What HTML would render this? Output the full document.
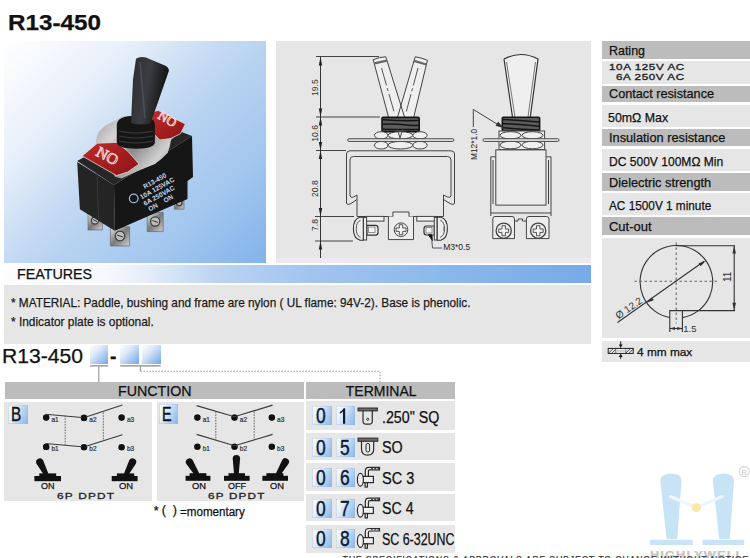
<!DOCTYPE html>
<html><head><meta charset="utf-8">
<style>
html,body{margin:0;padding:0;background:#fff;}
body{width:750px;height:558px;position:relative;overflow:hidden;font-family:"Liberation Sans",sans-serif;color:#111;}
.a{position:absolute;}
.t{position:absolute;white-space:nowrap;transform-origin:0 0;line-height:1;z-index:10;font-family:"Liberation Sans",sans-serif;-webkit-text-stroke:0.25px currentColor;}
.hdr{background:#bcbcbc;}
.row{background:#e6e6e6;}
.bx{background:linear-gradient(115deg,#fbfdff 0%,#e9f1fb 30%,#b4d1f1 65%,#86b6ea 100%);box-shadow:inset 0 0 0 0.6px rgba(150,180,220,.6);}
.pb{background:linear-gradient(135deg,#fdfeff 0%,#dfeafa 35%,#a2c6f0 70%,#6fa7e8 100%);}
</style></head><body>

<!-- photo -->
<div class="a" style="left:4px;top:41px;width:262px;height:222px;background:linear-gradient(135deg,#ffffff 0%,#f2f6fc 15%,#e6eff9 27%,#c6dbf3 45%,#b8d3f1 55%,#a2c6ee 77%,#82b3ea 100%);"></div>

<!-- diagram box -->
<div class="a" style="left:276px;top:41px;width:314.5px;height:217px;background:#e6e6e6;"></div>
<div class="a" style="left:276px;top:258px;width:314.5px;height:4.5px;background:#ede9ee;"></div>

<!-- spec table -->
<div class="a hdr" style="left:602px;top:41px;width:148px;height:17.6px;"></div>
<div class="a row" style="left:602px;top:60.6px;width:148px;height:23.7px;"></div>
<div class="a hdr" style="left:602px;top:86px;width:148px;height:16.3px;"></div>
<div class="a row" style="left:602px;top:104.6px;width:148px;height:22px;"></div>
<div class="a hdr" style="left:602px;top:129.1px;width:148px;height:17.4px;"></div>
<div class="a row" style="left:602px;top:148.9px;width:148px;height:22.1px;"></div>
<div class="a hdr" style="left:602px;top:172.8px;width:148px;height:17.8px;"></div>
<div class="a row" style="left:602px;top:193.4px;width:148px;height:21.3px;"></div>
<div class="a hdr" style="left:602px;top:217.4px;width:148px;height:17.8px;"></div>
<div class="a row" style="left:602px;top:238px;width:148px;height:100.4px;"></div>
<div class="a row" style="left:602px;top:340.8px;width:148px;height:20.8px;"></div>

<!-- features -->
<div class="a" style="left:4px;top:265.2px;width:587px;height:17.6px;background:linear-gradient(90deg,#fdfdff 0%,#f8f9fd 17%,#e2ecf9 25%,#bcd4f2 36%,#a4c6ef 50%,#8bb8eb 75%,#78aae8 100%);"></div>
<div class="a row" style="left:4px;top:284.5px;width:587px;height:59.3px;"></div>

<!-- part number boxes -->
<div class="a pb" style="left:90.2px;top:345px;width:18px;height:18.6px;"></div>
<div class="a pb" style="left:120.2px;top:345px;width:18.8px;height:18.6px;"></div>
<div class="a pb" style="left:142.2px;top:345px;width:18.5px;height:18.6px;"></div>

<!-- headers -->
<div class="a hdr" style="left:5px;top:382.1px;width:298.5px;height:17.4px;"></div>
<div class="a hdr" style="left:306px;top:382.1px;width:148.7px;height:17.4px;"></div>

<!-- function panels -->
<div class="a row" style="left:4.3px;top:401.8px;width:148.1px;height:99px;"></div>
<div class="a row" style="left:156.5px;top:401.8px;width:147.2px;height:99px;"></div>
<div class="a bx" style="left:8.3px;top:404.5px;width:19.4px;height:19.2px;"></div>
<div class="a bx" style="left:159.3px;top:404.3px;width:18.8px;height:19.4px;"></div>

<!-- terminal rows -->
<div class="a row" style="left:305.5px;top:401.3px;width:149px;height:29.2px;"></div>
<div class="a row" style="left:305.5px;top:432.8px;width:149px;height:27.7px;"></div>
<div class="a row" style="left:305.5px;top:463.2px;width:149px;height:27.6px;"></div>
<div class="a row" style="left:305.5px;top:494px;width:149px;height:27px;"></div>
<div class="a row" style="left:305.5px;top:524.9px;width:149px;height:28px;"></div>
<div class="a bx" style="left:312.2px;top:406.1px;width:19.4px;height:19px;"></div>
<div class="a bx" style="left:335.5px;top:406.1px;width:19px;height:19px;"></div>
<div class="a bx" style="left:312.2px;top:437.6px;width:19.4px;height:19px;"></div>
<div class="a bx" style="left:335.5px;top:437.6px;width:19px;height:19px;"></div>
<div class="a bx" style="left:312.2px;top:467.8px;width:19.4px;height:19px;"></div>
<div class="a bx" style="left:335.5px;top:467.8px;width:19px;height:19px;"></div>
<div class="a bx" style="left:312.2px;top:498.7px;width:19.4px;height:19px;"></div>
<div class="a bx" style="left:335.5px;top:498.7px;width:19px;height:19px;"></div>
<div class="a bx" style="left:312.2px;top:529px;width:19.4px;height:19px;"></div>
<div class="a bx" style="left:335.5px;top:529px;width:19px;height:19px;"></div>

<svg class="a" style="left:0;top:0;z-index:5" width="750" height="558" viewBox="0 0 750 558">
<defs>
  <linearGradient id="lev" x1="0" y1="0" x2="1" y2="0.3"><stop offset="0" stop-color="#2a2a2e"/><stop offset="0.5" stop-color="#3c3d42"/><stop offset="1" stop-color="#111"/></linearGradient>
  <linearGradient id="silv" x1="0" y1="0" x2="1" y2="0.6"><stop offset="0" stop-color="#9a9a9a"/><stop offset="0.3" stop-color="#d6d6d6"/><stop offset="0.55" stop-color="#8c8c8c"/><stop offset="0.8" stop-color="#cfcfcf"/><stop offset="1" stop-color="#a8a8a8"/></linearGradient>
  <linearGradient id="red" x1="0" y1="0" x2="1" y2="1"><stop offset="0" stop-color="#c22a2a"/><stop offset="1" stop-color="#8a1414"/></linearGradient>
  <linearGradient id="term" x1="0" y1="0" x2="1" y2="1"><stop offset="0" stop-color="#e8e8e8"/><stop offset="0.5" stop-color="#7a7a7a"/><stop offset="1" stop-color="#cfcfcf"/></linearGradient>
 </defs>
<g id="photoart">
  <!-- terminals -->
  <g stroke="#5a5a5a" stroke-width="0.6">
   <path d="M88,212.4 H102.4 V230 H88 Z" fill="url(#term)"/>
   <path d="M110.4,226.8 H129.6 V246 H110.4 Z" fill="url(#term)"/>
   <path d="M147.2,212.4 H163.2 V231.6 H147.2 Z" fill="url(#term)"/>
   <path d="M174.4,196.4 H184 V209.2 H174.4 Z" fill="url(#term)"/>
  </g>
  <g fill="#bdbdbd" stroke="#3a3a3a" stroke-width="1.2">
   <circle cx="95" cy="220.5" r="3.6"/><circle cx="120" cy="236" r="4.8"/><circle cx="155.2" cy="221.5" r="4.6"/><circle cx="179.2" cy="202.8" r="2.8"/>
  </g>
  <path d="M117,235 L123,237 M152.5,220.5 L158,222.5 M93,219.5 L97,221.5" stroke="#333" stroke-width="1"/>
  <!-- body -->
  <polygon points="77.2,161 150,120 192,136 114,185" fill="#262626"/>
  <polygon points="77.2,162 114,185 114.8,230.7 79.9,209.2" fill="#242424"/>
  <polygon points="114,185 192,136 193,177 187.5,181 187.5,199 114.8,230.7" fill="#161616"/>
  <path d="M97,173 L98.5,220" stroke="#383838" stroke-width="1"/>
  <!-- silver plate -->
  <path d="M95.8,144 Q96,136 99,132 Q104,125 111.8,122.4 L123,116 L151.8,114.4 L185.4,125.6 L171,140 Q170,147 167.8,152.8 Q162,159 155,164 L139,170.4 L121.4,178.4 L115,176.8 Z" fill="url(#silv)"/>
  <!-- red plates -->
  <path d="M82.2,156 L97.4,143.2 L116.6,142.4 L127.8,151.2 L139,164 L127.8,172 L116.6,175.6 Z" fill="url(#red)" stroke="#dcdcdc" stroke-width="0.8"/>
  <path d="M151.8,112 L158.2,110.4 L185.4,124 L180.6,133.6 L171,138.4 L159.8,140 L151.8,132 Z" fill="url(#red)" stroke="#dcdcdc" stroke-width="0.8"/>
  <g font-family="Liberation Serif" fill="none" stroke="#f1d6d6" stroke-width="0.9">
   <text font-size="15" transform="translate(95,155) rotate(28) scale(1.05,1)">NO</text>
   <text font-size="13" transform="translate(157,118) rotate(30)">NO</text>
  </g>
  <!-- bushing -->
  <path d="M116.8,125 Q117,115.8 136,115.8 Q155,115.8 154.9,125 V142 Q155,148.7 136,148.7 Q117,148.7 116.8,142 Z" fill="#161616"/>
  <path d="M119,131 Q136,135 153,131 M119,136 Q136,140 153,136 M119,141 Q136,145 153,141" stroke="#3c3c3c" stroke-width="1.1" fill="none"/>
  <!-- lever -->
  <path d="M136,58.7 Q140,56 146,57.5 L166,66 Q170,69 168.5,72 L150.7,123 Q141,126 131,123 L133,79.4 Z" fill="url(#lev)"/>
  <path d="M140,62 L145,118" stroke="#55575d" stroke-width="1.6" opacity="0.7"/>
  <!-- body text -->
  <g transform="translate(141.5,199.5) rotate(-29)" font-family="Liberation Sans" font-size="6.6" fill="#c8d6ee" font-weight="bold">
   <text x="8" y="-7.5">R13-450</text><text x="0" y="0">10A 125VAC</text><text x="0" y="7.3">6A 250VAC</text><text x="1.5" y="14.5">ON &#160;&#160;&#160;ON</text>
  </g>
  <circle cx="133.7" cy="198.4" r="4.3" fill="none" stroke="#9ab4e0" stroke-width="1.3"/>
</g>
<g id="diagram" fill="none" stroke="#3a3a3a" stroke-width="1">
  <!-- dimension lines -->
  <path d="M316,56.5H379 M316,117H380 M316,150.5H346 M315,216.5H354 M315,241H353" stroke="#444"/>
  <path d="M320.5,57V258" stroke="#333"/>
  <path d="M318.8,65.5 L320.5,57 L322.2,65.5Z M318.8,108.5 L320.5,117 L322.2,108.5Z M318.8,125.5 L320.5,117 L322.2,125.5Z M318.8,142.0 L320.5,150.5 L322.2,142.0Z M318.8,159.0 L320.5,150.5 L322.2,159.0Z M318.8,208.0 L320.5,216.5 L322.2,208.0Z M318.8,249.5 L320.5,241 L322.2,249.5Z" fill="#222" stroke="none"/>
  <g font-family="Liberation Sans" font-size="9.5" fill="#333" stroke="none" text-anchor="middle">
   <text transform="translate(317.6,87.6) rotate(-90) scale(0.9,1)">19.5</text>
   <text transform="translate(317.6,133.4) rotate(-90) scale(0.9,1)">10.6</text>
   <text transform="translate(317.6,188.6) rotate(-90) scale(0.9,1)">20.8</text>
   <text transform="translate(317.6,225) rotate(-90) scale(0.9,1)">7.8</text>
  </g>
  <!-- front levers -->
  <path d="M373.2,59.7 L385.8,56.8 L404.5,117 L388.5,117 Z M415.2,56.8 L427.4,60.3 L413.8,117 L397.6,117 Z" fill="#efefef" stroke="none"/>
  <path d="M373.2,59.7 L388.5,117 M385.8,56.8 L404.5,117 M373.2,59.7 Q379,57 385.8,56.8" stroke="#444"/>
  <path d="M374.4,63.4 L386.9,60.6" stroke="#666" stroke-width="2.2"/>
  <path d="M381.5,68 L394.4,113" stroke="#555" stroke-dasharray="18 3 3 3"/>
  <path d="M415.2,56.8 L397.6,117 M427.4,60.3 L413.8,117 M415.2,56.8 Q421,57.5 427.4,60.3" stroke="#444"/>
  <path d="M414.1,60.9 L426.3,64.5" stroke="#666" stroke-width="2.2"/>
  <path d="M418,68 L405.9,113" stroke="#555" stroke-dasharray="18 3 3 3"/>
  <!-- bushing -->
  <rect x="382" y="117.4" width="37.2" height="14.2" rx="1" fill="#5c5c5c" stroke="#151515" stroke-width="1.6"/>
  <path d="M382.5,119.8 Q400,121 419,120.5 M382.5,124.2 Q395,123.5 404,124.8 Q412,125.8 419,125.2 M382.5,129.3 Q400,129.8 419,129.5" stroke="#151515" stroke-width="1.5" fill="none"/>
  <!-- nuts & plate -->
  <g fill="#efefef" stroke="#444">
   <ellipse cx="381.2" cy="135.3" rx="6.8" ry="3.6"/><ellipse cx="400.4" cy="135.3" rx="12.4" ry="3.6"/><ellipse cx="420" cy="135.3" rx="7.2" ry="3.6"/>
   <ellipse cx="381.2" cy="145.2" rx="6.8" ry="3.8"/><ellipse cx="400.4" cy="145.2" rx="12.4" ry="3.8"/><ellipse cx="420" cy="145.2" rx="7.2" ry="3.8"/>
   <rect x="347.7" y="138.8" width="106.2" height="2.6" rx="1.3"/>
  </g>
  <path d="M397,128 L400,138 L403,128" stroke="#444"/>
  <!-- frame -->
  <path d="M346.5,203 V154 Q346.5,150.8 350,150.8 H451 Q454.5,150.8 454.5,154 V203 Q454,205.5 450,203.5 L443.5,199.5" stroke="#444"/>
  <path d="M350,196 V160 Q350,156.5 353.5,156.5 H447.5 Q451,156.5 451,160 V196 Q450.5,198 447.5,197 L443.5,195" stroke="#444"/>
  <path d="M346.5,203 Q347,205.5 351,203.5 L357,199.5 M350,196 Q350.5,198 353.5,197 L357,195" stroke="#444"/>
  <path d="M357,195 V216.5 M443.5,195 V216.5 M357,216.5 H443.5" stroke="#444"/>
  <!-- front terminals -->
  <rect x="365.5" y="216.4" width="18.5" height="4.7" fill="#f0f0f0" stroke="#444"/>
  <rect x="416.8" y="216.4" width="18.4" height="4.7" fill="#f0f0f0" stroke="#444"/>
  <path d="M366.9,225.3 H375.5 Q378,225.3 378,228 V232.4 Q378,235.1 375.5,235.1 H366.9 Z" fill="#ececec" stroke="#333" stroke-width="1.2"/>
  <rect x="368.5" y="227" width="6.5" height="5.6" fill="#f4f4f4" stroke="#666" stroke-width="0.7"/>
  <rect x="363.3" y="217.5" width="3.3" height="22.5" fill="#ececec" stroke="#444"/>
  <path d="M363.3,217.3 H360 Q353.4,219 353.4,228.8 Q353.4,238.6 360,240.3 H363.3 Z" fill="#ececec" stroke="#333" stroke-width="1.1"/>
  <path d="M360.5,220.2 Q356.2,222 356.2,228.8 Q356.2,235.6 360.5,237.4" stroke="#555"/>
  <path d="M434.3,226 H426.5 Q424,226 424,228.7 V232.3 Q424,235 426.5,235 H434.3 Z" fill="#ececec" stroke="#333" stroke-width="1.2"/>
  <rect x="426" y="227.6" width="6" height="5.4" fill="#f4f4f4" stroke="#666" stroke-width="0.7"/>
  <rect x="434.3" y="217.5" width="2.9" height="22.5" fill="#ececec" stroke="#444"/>
  <path d="M437.2,217.3 H440.8 Q447.4,219 447.4,228.8 Q447.4,238.6 440.8,240.3 H437.2 Z" fill="#ececec" stroke="#333" stroke-width="1.1"/>
  <path d="M440.2,220.2 Q444.6,222 444.6,228.8 Q444.6,235.6 440.2,237.4" stroke="#555"/>
  <path d="M443.8,226.5 V231" stroke="#666" stroke-width="0.8"/>
  <path d="M392.9,216.5 V212 H409 V216.5 M388.4,216.5 V239.6 H413.5 V216.5" fill="#ececec" stroke="#444"/>
  <circle cx="401" cy="229.7" r="6.8" stroke="#444"/>
  <path d="M399.3,224.7 H402.7 V228.0 H406.0 V231.4 H402.7 V234.7 H399.3 V231.4 H396.0 V228.0 H399.3 Z" fill="#f2f2f2" stroke="#444" stroke-width="0.9" stroke-linejoin="round"/>
  <!-- M3 leader -->
  <path d="M428.4,234.6 L432,234.8 L432.4,240.8 Z" fill="#111" stroke="#111" stroke-width="0.8"/>
  <path d="M431.8,240.5 L432.5,248 H442" stroke="#555"/>
  <text transform="translate(443.2,250.3) scale(0.9,1)" font-family="Liberation Sans" font-size="9.5" fill="#222" stroke="none">M3*0.5</text>

  <!-- side view -->
  <path d="M504,59 Q521,50 538,59 L530.3,117 L512.5,117 Z" fill="#efefef" stroke="none"/>
  <path d="M504,59 Q521,50 538,59 L530.3,117 M512.5,117 L504,59" stroke="#333" stroke-width="1.2"/>
  <path d="M535.5,62 L528,117 M515,117 L506.5,62" stroke="#777"/>
  <rect x="502.3" y="117.2" width="37.3" height="13.8" rx="1" fill="#5c5c5c" stroke="#151515" stroke-width="1.6"/>
  <path d="M502.8,119.5 Q520,120 539,122 M502.8,123.5 Q520,124.5 539,126.3 M502.8,127.8 Q520,129 539,130" stroke="#151515" stroke-width="1.5" fill="none"/>
  <g fill="#efefef" stroke="#444">
   <rect x="499" y="131" width="45.6" height="18.6"/>
   <ellipse cx="510.5" cy="135.3" rx="10.5" ry="3.6"/><ellipse cx="532.5" cy="135.3" rx="10.5" ry="3.6"/>
   <ellipse cx="510.5" cy="145" rx="10.5" ry="3.8"/><ellipse cx="532.5" cy="145" rx="10.5" ry="3.8"/>
   <rect x="483" y="138.8" width="76" height="2.6" rx="1.3"/>
  </g>
  <rect x="495.8" y="149.9" width="50.2" height="55.2" fill="#ececec" stroke="#444"/>
  <path d="M490.8,216 V156.8 H495.8 M546,156.8 H551 V216 M493,160 V204 M548.5,160 V204" stroke="#444"/>
  <path d="M490.8,213 H551" stroke="#444"/>
  <path d="M492.8,238.6 V219 Q492.8,216.5 495,216.5 H512 Q514.5,216.5 514.5,219 V238.6 Z" fill="#ececec" stroke="#444"/>
  <path d="M526.4,238.6 V219 Q526.4,216.5 529,216.5 H546.5 Q549,216.5 549,219 V238.6 Z" fill="#ececec" stroke="#444"/>
  <path d="M514.5,221 H518 V219 H522.5 V221 H526.4" stroke="#444"/>
  <circle cx="503.7" cy="230.7" r="7.6" stroke="#444" stroke-width="1.3"/>
  <circle cx="538.2" cy="230.7" r="7.6" stroke="#444" stroke-width="1.3"/>
  <path d="M502.0,225.7 H505.4 V229.0 H508.7 V232.39999999999998 H505.4 V235.7 H502.0 V232.39999999999998 H498.7 V229.0 H502.0 Z" fill="#f2f2f2" stroke="#444" stroke-width="0.9" stroke-linejoin="round"/><path d="M536.5,225.7 H539.9000000000001 V229.0 H543.2 V232.39999999999998 H539.9000000000001 V235.7 H536.5 V232.39999999999998 H533.2 V229.0 H536.5 Z" fill="#f2f2f2" stroke="#444" stroke-width="0.9" stroke-linejoin="round"/>
  <!-- M12 leader -->
  <path d="M473.3,127 V109.4 L501,126.5" stroke="#444"/>
  <path d="M503.5,128 L495.5,125.8 L498.2,121.6Z" fill="#333" stroke="none"/>
  <text transform="translate(477,160) rotate(-90) scale(0.88,1)" font-family="Liberation Sans" font-size="9.5" fill="#222" stroke="none">M12*1.0</text>
 </g>
 <g id="cutout" fill="none" stroke="#333" stroke-width="1.1">
  <path d="M682.4,317.6 A36.3,36.3 0 1 0 669.8,317.5"/>
  <path d="M669.8,331.9 V310.6 H682.4 V331.9"/>
  <path d="M634.5,281.3 H718.2 M676.2,242.5 V323.4" stroke="#666" stroke-dasharray="2.5 2.5"/>
  <path d="M617.5,322.5 L704.1,261.3"/>
  <path d="M705.8,260.9 L698.6,263.3 L700.6,266.2 Z M646.6,302.7 L653.8,300.3 L651.8,297.4 Z" fill="#333" stroke="none"/>
  <path d="M676.2,245.7 H735.1 M682.4,310.6 H735.1 M734.2,245.7 V310.6"/>
  <path d="M732.4,253.5 L734.2,245.7 L736,253.5 Z M732.4,302.8 L734.2,310.6 L736,302.8 Z" fill="#333" stroke="none"/>
  <path d="M669.8,328.5 H682.4"/>
  <path d="M669.8,328.5 L675,327 V330 Z M682.4,328.5 L677.2,327 V330 Z" fill="#333" stroke="none"/>
  <g font-family="Liberation Sans" fill="#333" stroke="none">
   <text transform="translate(618.5,319.5) rotate(-35.25)" font-size="10">Ø 12.2</text>
   <text transform="translate(730.5,282) rotate(-90)" font-size="10">11</text>
   <text x="683.3" y="332" font-size="9.5">1.5</text>
  </g>
 </g>
 <g id="thk">
  <rect x="608.2" y="348.4" width="25" height="5" fill="#f6f6f6" stroke="#1a1a1a" stroke-width="1"/>
  <path d="M609.2,352.6 L613,348.8 M612.2,352.8 L615.6,349.4 M626.2,352.8 L630,349 M629.4,352.8 L632.8,349.4" stroke="#222" stroke-width="0.9"/>
  <path d="M615.8,348.6 V353.1 M625.8,348.6 V353.1" stroke="#333" stroke-width="0.7"/>
  <rect x="616.4" y="349.9" width="8.8" height="2" fill="#d0d0d0"/>
  <path d="M620.7,341.3 V346" stroke="#1a1a1a" stroke-width="1"/>
  <path d="M618.8,344.5 L620.7,348 L622.6,344.5 Z M618.8,357 L620.7,353.6 L622.6,357 Z" fill="#1a1a1a"/>
  <path d="M620.7,355 V358.8" stroke="#1a1a1a" stroke-width="1"/>
 </g>
 <g id="func">
  <g fill="#111" stroke="#f2f2f2" stroke-width="1.2">
   <circle cx="46.2" cy="417.6" r="3.9"/><circle cx="84" cy="417.9" r="3.9"/><circle cx="121.6" cy="417.6" r="3.9"/>
   <circle cx="46.2" cy="446.9" r="3.9"/><circle cx="84" cy="447.2" r="3.9"/><circle cx="121.6" cy="447.2" r="3.9"/>
   <circle cx="197.4" cy="417.6" r="3.9"/><circle cx="234.5" cy="417.6" r="3.9"/><circle cx="271.8" cy="417.6" r="3.9"/>
   <circle cx="197.4" cy="446.7" r="3.9"/><circle cx="234.5" cy="446.7" r="3.9"/><circle cx="271.8" cy="446.7" r="3.9"/>
  </g>
  <g fill="none" stroke="#3a3a3a" stroke-width="1.1">
   <path d="M45.5,414.2 L82,417.5 M86,417 L122.4,405.1 M45.5,443.5 L82,446.8 M86,446.3 L122.4,434.8"/>
   <path d="M196.6,405.6 L234.5,416.8 L272.6,405.1 M196.6,434.4 L234.5,445.8 L272.6,434.4"/>
  </g>
  <g fill="none" stroke="#555" stroke-width="0.9" stroke-dasharray="1.6 1.2">
   <path d="M65.2,415.5 V444.7 M103.3,412.5 V439.6 M215.8,411.5 V440 M254.2,411.5 V439.2"/>
  </g>
  <g font-family="Liberation Sans" font-size="6.5" fill="#333" stroke="#333" stroke-width="0.2">
   <text x="51.5" y="421.5">a1</text><text x="89.3" y="421.7">a2</text><text x="126.9" y="421.5">a3</text>
   <text x="51.5" y="450.8">b1</text><text x="89.3" y="451">b2</text><text x="126.9" y="451">b3</text>
   <text x="202.7" y="421.5">a1</text><text x="239.8" y="421.5">a2</text><text x="277.1" y="421.5">a3</text>
   <text x="202.7" y="450.6">b1</text><text x="239.8" y="450.6">b2</text><text x="277.1" y="450.6">b3</text>
  </g>
  <g fill="#111">
   <rect x="34.4" y="476" width="26.6" height="5.2"/><rect x="39.3" y="473.4" width="16.9" height="3"/>
   <rect x="111.7" y="476" width="25.9" height="5.2"/><rect x="116.9" y="473.4" width="17.3" height="3"/>
   <rect x="185.6" y="475.8" width="24.8" height="5"/><rect x="189.6" y="473.2" width="16.8" height="3"/>
   <rect x="224" y="475.8" width="25.6" height="5"/><rect x="228.5" y="473.2" width="16.5" height="3"/>
   <rect x="262.4" y="475.8" width="25.6" height="5"/><rect x="266.4" y="473.2" width="17" height="3"/>
  </g>
  <g fill="#111"><path d="M36.52,463.71 L44.26,475.56 L48.34,473.44 L43.08,460.29 A3.7,3.7 0 0 0 36.52,463.71 Z"/><path d="M129.27,460.29 L124.01,473.44 L128.09,475.56 L135.83,463.71 A3.7,3.7 0 0 0 129.27,460.29 Z"/><path d="M186.35,463.94 L195.24,475.71 L199.16,473.29 L192.65,460.06 A3.7,3.7 0 0 0 186.35,463.94 Z"/><path d="M232.70,458.60 L234.10,474.50 L238.70,474.50 L240.10,458.60 A3.7,3.7 0 0 0 232.70,458.60 Z"/><path d="M282.10,460.13 L276.01,473.34 L279.99,475.66 L288.50,463.87 A3.7,3.7 0 0 0 282.10,460.13 Z"/></g>
 </g>
 <g id="ticons" fill="none">
  <path d="M339.9,412.2 Q342.6,410.6 343.6,408.3 L345.2,408.3 V423.8 H343 V411.6 Q341.6,413 339.9,413.8 Z" fill="#0c1a33"/>
  <rect x="358" y="408" width="19.4" height="2.9" fill="#6a6a6a" stroke="#2a2a2a" stroke-width="1"/>
  <path d="M363,410.9 V421 Q363,424.2 366,424.2 H369.3 Q372.3,424.2 372.3,421 V410.9" stroke="#2a2a2a" stroke-width="1.2"/>
  <circle cx="367.7" cy="419.3" r="1.1" stroke="#2a2a2a" stroke-width="0.9"/>
  <rect x="358" y="438.1" width="19.8" height="3.2" fill="#6a6a6a" stroke="#2a2a2a" stroke-width="1"/>
  <path d="M361.5,441.3 V449 Q361.5,455.2 367.6,455.2 Q373.7,455.2 373.7,449 V441.3" stroke="#2a2a2a" stroke-width="1.2"/>
  <rect x="366" y="443.4" width="3.6" height="8.7" rx="1.8" stroke="#2a2a2a" stroke-width="1"/>
  <g transform="translate(0,0)" stroke="#2a2a2a" stroke-width="1.2">
   <path d="M365.3,476.6 V471 Q365.3,467.3 369,467.3 H379.5 V469.8 H369.6 Q368.4,469.8 368.4,471 V476.6" fill="#f0f0f0"/>
   <path d="M371,468.55 H379" stroke="#444" stroke-dasharray="2 1.2" stroke-width="1.2"/>
   <rect x="362.6" y="476.4" width="10.8" height="6.2" fill="#f0f0f0"/>
   <ellipse cx="360.4" cy="479.8" rx="3" ry="6.4" fill="#f0f0f0"/>
   <rect x="365.1" y="482.6" width="2.3" height="4.4" fill="#f0f0f0"/>
  </g>
  <g transform="translate(0,30.9)" stroke="#2a2a2a" stroke-width="1.2">
   <path d="M365.3,476.6 V471 Q365.3,467.3 369,467.3 H379.5 V469.8 H369.6 Q368.4,469.8 368.4,471 V476.6" fill="#f0f0f0"/>
   <path d="M371,468.55 H379" stroke="#444" stroke-dasharray="2 1.2" stroke-width="1.2"/>
   <rect x="362.6" y="476.4" width="10.8" height="6.2" fill="#f0f0f0"/>
   <ellipse cx="360.4" cy="479.8" rx="3" ry="6.4" fill="#f0f0f0"/>
   <rect x="365.1" y="482.6" width="2.3" height="4.4" fill="#f0f0f0"/>
  </g>
  <g transform="translate(0,61.2)" stroke="#2a2a2a" stroke-width="1.2">
   <path d="M365.3,476.6 V471 Q365.3,467.3 369,467.3 H379.5 V469.8 H369.6 Q368.4,469.8 368.4,471 V476.6" fill="#f0f0f0"/>
   <path d="M371,468.55 H379" stroke="#444" stroke-dasharray="2 1.2" stroke-width="1.2"/>
   <rect x="362.6" y="476.4" width="10.8" height="6.2" fill="#f0f0f0"/>
   <ellipse cx="360.4" cy="479.8" rx="3" ry="6.4" fill="#f0f0f0"/>
   <rect x="365.1" y="482.6" width="2.3" height="4.4" fill="#f0f0f0"/>
  </g>
 </g>
 <g id="logo">
  <path d="M660.3,481 Q660.3,473.5 671,473.5 Q681.5,473.5 681.5,481 L677.2,539 H666.6 Z" fill="#c8e2f6"/>
  <path d="M712.9,481 Q712.9,473.5 723.5,473.5 Q734,473.5 734,481 L729.7,539 H719.2 Z" fill="#c8e2f6"/>
  <rect x="650.1" y="539.8" width="42.5" height="5.2" fill="#c8e2f6"/>
  <rect x="702.7" y="539.8" width="41.5" height="5.2" fill="#c8e2f6"/>
  <path d="M670.4,496.5 L696.3,507.6 L722.1,496.5" stroke="#eef6fc" stroke-width="3" fill="none" stroke-linecap="round"/>
  <circle cx="696.3" cy="507.6" r="4.6" fill="#fbe8a6"/>
  <circle cx="744.2" cy="471.6" r="5" fill="none" stroke="#c4c4c4" stroke-width="0.9"/>
  <text x="741.3" y="475" font-family="Liberation Sans" font-size="8" fill="#c4c4c4">R</text>
 </g>
 <g id="conn" fill="none">
  <path d="M90.2,365.9 H108.2 M120.2,365.9 H160.7" stroke="#6a6a6a" stroke-width="1"/>
  <path d="M98.8,366.5 V382" stroke="#8a8a8a" stroke-width="1"/>
  <path d="M140.4,366.5 V371.3" stroke="#8a8a8a" stroke-width="1"/>
  <path d="M140.4,371.3 H380 V382" stroke="#9a9a9a" stroke-width="1" stroke-dasharray="1.5 1.5"/>
 </g>

</svg>

<div class="t" style="left:7.70px;top:12.20px;font-size:22px;font-weight:bold;color:#111;transform:scaleX(1.1012);">R13-450</div>
<div class="t" style="left:609.28px;top:43.60px;font-size:13.6px;color:#111;transform:scaleX(0.9158);">Rating</div>
<div class="t" style="left:608.87px;top:87.30px;font-size:13.6px;color:#111;transform:scaleX(0.9333);">Contact resistance</div>
<div class="t" style="left:608.86px;top:131.40px;font-size:13.6px;color:#111;transform:scaleX(0.9385);">Insulation resistance</div>
<div class="t" style="left:608.86px;top:175.50px;font-size:13.6px;color:#111;transform:scaleX(0.9393);">Dielectric strength</div>
<div class="t" style="left:608.55px;top:219.90px;font-size:13.6px;color:#111;transform:scaleX(0.9535);">Cut-out</div>
<div class="t" style="left:609.08px;top:62.00px;font-size:9.5px;letter-spacing:0.5px;-webkit-text-stroke:0.35px #222;color:#222;transform:scaleX(1.2217);">10A 125V AC</div>
<div class="t" style="left:616.40px;top:71.70px;font-size:9.5px;letter-spacing:0.5px;-webkit-text-stroke:0.35px #222;color:#222;transform:scaleX(1.2218);">6A 250V AC</div>
<div class="t" style="left:608.19px;top:110.70px;font-size:13.6px;color:#111;transform:scaleX(0.9108);">50mΩ Max</div>
<div class="t" style="left:608.91px;top:154.70px;font-size:13.6px;color:#111;transform:scaleX(0.8866);">DC 500V 100MΩ Min</div>
<div class="t" style="left:609.10px;top:198.80px;font-size:13.6px;color:#111;transform:scaleX(0.8675);">AC 1500V 1 minute</div>
<div class="t" style="left:637.00px;top:347.30px;font-size:11.5px;color:#111;transform:scaleX(1.0302);">4 mm max</div>
<div class="t" style="left:16.58px;top:267.40px;font-size:14px;color:#111;transform:scaleX(1.0194);">FEATURES</div>
<div class="t" style="left:11.31px;top:296.20px;font-size:13.2px;color:#1a1a1a;transform:scaleX(0.8941);">* MATERIAL: Paddle, bushing and frame are nylon ( UL flame: 94V-2). Base is phenolic.</div>
<div class="t" style="left:11.30px;top:315.40px;font-size:13.2px;color:#1a1a1a;transform:scaleX(0.9013);">* Indicator plate is optional.</div>
<div class="t" style="left:2.49px;top:346.00px;font-size:20px;color:#111;transform:scaleX(1.0568);">R13-450</div>
<div class="t" style="left:109.64px;top:346.00px;font-size:20px;font-weight:bold;color:#111;transform:scaleX(0.9600);">-</div>
<div class="t" style="left:117.98px;top:383.60px;font-size:14px;color:#111;transform:scaleX(1.0171);">FUNCTION</div>
<div class="t" style="left:345.80px;top:383.60px;font-size:14px;color:#111;">TERMINAL</div>
<div class="t" style="left:11.23px;top:403.50px;font-size:20px;-webkit-text-stroke:0.4px #111;color:#111;transform:scaleX(0.7667);">B</div>
<div class="t" style="left:162.38px;top:403.50px;font-size:20px;-webkit-text-stroke:0.4px #111;color:#111;transform:scaleX(0.7167);">E</div>
<div class="t" style="left:40.90px;top:481.20px;font-size:9.5px;color:#111;transform:scaleX(0.9500);">ON</div>
<div class="t" style="left:118.60px;top:481.20px;font-size:9.5px;color:#111;transform:scaleX(0.9929);">ON</div>
<div class="t" style="left:191.50px;top:481.20px;font-size:9.5px;color:#111;transform:scaleX(0.9857);">ON</div>
<div class="t" style="left:227.90px;top:481.20px;font-size:9.5px;color:#111;transform:scaleX(0.9526);">OFF</div>
<div class="t" style="left:269.50px;top:481.20px;font-size:9.5px;color:#111;transform:scaleX(0.9857);">ON</div>
<div class="t" style="left:56.90px;top:491.50px;font-size:8.6px;letter-spacing:0.9px;-webkit-text-stroke:0.28px #222;color:#222;transform:scaleX(1.3738);">6P DPDT</div>
<div class="t" style="left:208.00px;top:491.50px;font-size:8.6px;letter-spacing:0.9px;-webkit-text-stroke:0.28px #222;color:#222;transform:scaleX(1.3571);">6P DPDT</div>
<div class="t" style="left:153.70px;top:504.50px;font-size:12.5px;color:#111;">*</div>
<div class="t" style="left:161.70px;top:504.30px;font-size:12.5px;color:#111;">(</div>
<div class="t" style="left:172.70px;top:504.30px;font-size:12.5px;color:#111;">)</div>
<div class="t" style="left:180.07px;top:506.30px;font-size:12.5px;color:#111;transform:scaleX(0.9275);">=momentary</div>
<div class="t" style="left:316.21px;top:405.30px;font-size:22px;-webkit-text-stroke:0.45px #0c1a33;color:#0c1a33;transform:scaleX(0.7909);">0</div>
<div class="t" style="left:316.21px;top:436.80px;font-size:22px;-webkit-text-stroke:0.45px #0c1a33;color:#0c1a33;transform:scaleX(0.7909);">0</div>
<div class="t" style="left:339.61px;top:436.80px;font-size:22px;-webkit-text-stroke:0.45px #0c1a33;color:#0c1a33;transform:scaleX(0.7909);">5</div>
<div class="t" style="left:316.21px;top:467.00px;font-size:22px;-webkit-text-stroke:0.45px #0c1a33;color:#0c1a33;transform:scaleX(0.7909);">0</div>
<div class="t" style="left:339.61px;top:467.00px;font-size:22px;-webkit-text-stroke:0.45px #0c1a33;color:#0c1a33;transform:scaleX(0.7909);">6</div>
<div class="t" style="left:316.21px;top:497.90px;font-size:22px;-webkit-text-stroke:0.45px #0c1a33;color:#0c1a33;transform:scaleX(0.7909);">0</div>
<div class="t" style="left:339.61px;top:497.90px;font-size:22px;-webkit-text-stroke:0.45px #0c1a33;color:#0c1a33;transform:scaleX(0.7909);">7</div>
<div class="t" style="left:316.21px;top:528.20px;font-size:22px;-webkit-text-stroke:0.45px #0c1a33;color:#0c1a33;transform:scaleX(0.7909);">0</div>
<div class="t" style="left:339.61px;top:528.20px;font-size:22px;-webkit-text-stroke:0.45px #0c1a33;color:#0c1a33;transform:scaleX(0.7909);">8</div>
<div class="t" style="left:382.11px;top:409.70px;font-size:16px;color:#111;transform:scaleX(0.8889);">.250" SQ</div>
<div class="t" style="left:381.60px;top:439.60px;font-size:16px;color:#111;transform:scaleX(0.8955);">SO</div>
<div class="t" style="left:381.59px;top:470.80px;font-size:16px;color:#111;transform:scaleX(0.9059);">SC 3</div>
<div class="t" style="left:381.61px;top:501.40px;font-size:16px;color:#111;transform:scaleX(0.8882);">SC 4</div>
<div class="t" style="left:381.72px;top:531.90px;font-size:16px;color:#111;transform:scaleX(0.7761);">SC 6-32UNC</div>
<div class="t" style="left:649.84px;top:550.20px;font-size:11px;font-weight:bold;letter-spacing:1px;color:#c4c4c4;transform:scaleX(1.1570);">HIGHLYWELL</div>
<div class="t" style="left:342.20px;top:554.80px;font-size:11px;font-style:italic;letter-spacing:1px;color:#3a3a3a;transform:scaleX(0.8004);">THE SPECIFICATIONS &amp; APPROVALS ARE SUBJECT TO CHANGE WITHOUT NOTICE</div>

</body></html>
